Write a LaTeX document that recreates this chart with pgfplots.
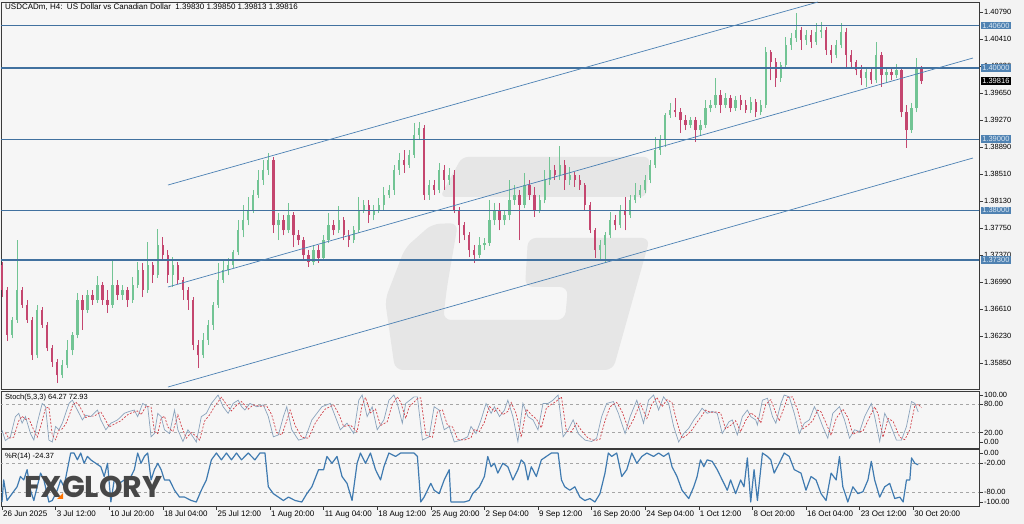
\documentclass[border=0pt]{standalone}
\usepackage{pgfplots}
\pgfplotsset{compat=1.18}
\usepackage{pgfplotstable}
\usepackage{fontspec}
\setmainfont{Liberation Sans}
\newfontfamily\logofont{Poppins}

\definecolor{pagebg}{HTML}{F3F3F3}
\definecolor{plotbg}{HTML}{F6F6F6}
\definecolor{wmark}{HTML}{E6E6E6}
\definecolor{bull}{HTML}{72C494}
\definecolor{bear}{HTML}{C4466F}
\definecolor{level}{HTML}{41719F}
\definecolor{chan}{HTML}{4B80B3}
\definecolor{tagbg}{HTML}{4F82B2}
\definecolor{tagfg}{HTML}{DCE8F3}
\definecolor{stochmain}{HTML}{8AA3BC}
\definecolor{stochsig}{HTML}{D0424A}
\definecolor{wpr}{HTML}{3F7AB0}
\definecolor{frame}{HTML}{3A3A3A}

% USDCAD H4 candles, one per 3 bars (t = bar number)
\pgfplotstableread{
t o h l c
0 1.3723 1.3727 1.3678 1.3688
3 1.3688 1.3692 1.3616 1.3625
6 1.3625 1.3650 1.3620 1.3646
9 1.3646 1.3758 1.3642 1.3688
12 1.3688 1.3692 1.3663 1.3667
15 1.3667 1.3674 1.3642 1.3646
18 1.3646 1.3650 1.3590 1.3596
21 1.3596 1.3667 1.3592 1.3660
24 1.3660 1.3664 1.3635 1.3639
27 1.3639 1.3643 1.3602 1.3606
30 1.3606 1.3611 1.3580 1.3587
33 1.3587 1.3591 1.3557 1.3568
36 1.3568 1.3590 1.3564 1.3582
39 1.3582 1.3618 1.3578 1.3603
42 1.3603 1.3629 1.3596 1.3625
45 1.3625 1.3684 1.3620 1.3674
48 1.3674 1.3681 1.3632 1.3660
51 1.3660 1.3688 1.3656 1.3681
54 1.3681 1.3688 1.3667 1.3674
57 1.3674 1.3708 1.3670 1.3695
60 1.3695 1.3699 1.3667 1.3674
63 1.3674 1.3688 1.3656 1.3667
66 1.3667 1.3730 1.3663 1.3695
69 1.3695 1.3702 1.3674 1.3681
72 1.3681 1.3695 1.3674 1.3688
75 1.3688 1.3692 1.3664 1.3674
78 1.3674 1.3706 1.3670 1.3695
81 1.3695 1.3727 1.3691 1.3716
84 1.3716 1.3726 1.3678 1.3688
87 1.3688 1.3755 1.3684 1.3723
90 1.3723 1.3727 1.3698 1.3709
93 1.3709 1.3774 1.3705 1.3751
96 1.3751 1.3762 1.3730 1.3737
99 1.3737 1.3744 1.3698 1.3709
102 1.3709 1.3734 1.3692 1.3723
105 1.3723 1.3727 1.3696 1.3702
108 1.3702 1.3706 1.3674 1.3688
111 1.3688 1.3692 1.3660 1.3674
114 1.3674 1.3678 1.3603 1.3611
117 1.3611 1.3618 1.3578 1.3596
120 1.3596 1.3628 1.3592 1.3618
123 1.3618 1.3646 1.3611 1.3639
126 1.3639 1.3671 1.3632 1.3667
129 1.3667 1.3726 1.3663 1.3702
132 1.3702 1.3730 1.3698 1.3716
135 1.3716 1.3733 1.3709 1.3723
138 1.3723 1.3744 1.3719 1.3741
141 1.3741 1.3786 1.3737 1.3772
144 1.3772 1.3808 1.3762 1.3786
147 1.3786 1.3819 1.3779 1.3800
150 1.3800 1.3829 1.3796 1.3822
153 1.3822 1.3857 1.3817 1.3843
156 1.3843 1.3871 1.3836 1.3857
159 1.3857 1.3881 1.3850 1.3871
162 1.3871 1.3875 1.3768 1.3779
165 1.3779 1.3796 1.3758 1.3786
168 1.3786 1.3793 1.3765 1.3772
171 1.3772 1.3810 1.3768 1.3793
174 1.3793 1.3798 1.3748 1.3765
177 1.3765 1.3772 1.3751 1.3758
180 1.3758 1.3762 1.3730 1.3737
183 1.3737 1.3744 1.3720 1.3727
186 1.3727 1.3751 1.3723 1.3744
189 1.3744 1.3751 1.3726 1.3733
192 1.3733 1.3765 1.3729 1.3758
195 1.3758 1.3796 1.3754 1.3779
198 1.3779 1.3786 1.3765 1.3772
201 1.3772 1.3806 1.3768 1.3786
204 1.3786 1.3791 1.3758 1.3765
207 1.3765 1.3772 1.3748 1.3758
210 1.3758 1.3778 1.3754 1.3772
213 1.3772 1.3819 1.3768 1.3800
216 1.3800 1.3815 1.3796 1.3808
219 1.3808 1.3815 1.3782 1.3793
222 1.3793 1.3808 1.3786 1.3800
225 1.3800 1.3817 1.3796 1.3808
228 1.3808 1.3833 1.3800 1.3822
231 1.3822 1.3836 1.3817 1.3829
234 1.3829 1.3864 1.3822 1.3857
237 1.3857 1.3881 1.3850 1.3871
240 1.3871 1.3885 1.3853 1.3864
243 1.3864 1.3885 1.3860 1.3878
246 1.3878 1.3923 1.3874 1.3906
249 1.3906 1.3924 1.3899 1.3916
252 1.3916 1.3920 1.3815 1.3822
255 1.3822 1.3843 1.3815 1.3836
258 1.3836 1.3843 1.3822 1.3829
261 1.3829 1.3867 1.3824 1.3857
264 1.3857 1.3864 1.3829 1.3843
267 1.3843 1.3860 1.3836 1.3850
270 1.3850 1.3857 1.3796 1.3800
273 1.3800 1.3805 1.3754 1.3779
276 1.3779 1.3784 1.3758 1.3765
279 1.3765 1.3770 1.3734 1.3744
282 1.3744 1.3751 1.3726 1.3737
285 1.3737 1.3762 1.3733 1.3751
288 1.3751 1.3761 1.3744 1.3754
291 1.3754 1.3815 1.3750 1.3786
294 1.3786 1.3810 1.3779 1.3800
297 1.3800 1.3810 1.3772 1.3786
300 1.3786 1.3800 1.3779 1.3793
303 1.3793 1.3843 1.3786 1.3815
306 1.3815 1.3836 1.3808 1.3822
309 1.3822 1.3829 1.3758 1.3808
312 1.3808 1.3853 1.3803 1.3836
315 1.3836 1.3843 1.3815 1.3822
318 1.3822 1.3833 1.3791 1.3800
321 1.3800 1.3822 1.3796 1.3815
324 1.3815 1.3857 1.3810 1.3843
327 1.3843 1.3875 1.3836 1.3857
330 1.3857 1.3864 1.3843 1.3850
333 1.3850 1.3891 1.3843 1.3864
336 1.3864 1.3871 1.3829 1.3843
339 1.3843 1.3861 1.3836 1.3850
342 1.3850 1.3854 1.3833 1.3843
345 1.3843 1.3850 1.3829 1.3836
348 1.3836 1.3838 1.3800 1.3808
351 1.3808 1.3812 1.3768 1.3772
354 1.3772 1.3775 1.3733 1.3744
357 1.3744 1.3758 1.3730 1.3751
360 1.3751 1.3770 1.3726 1.3765
363 1.3765 1.3798 1.3761 1.3786
366 1.3786 1.3793 1.3772 1.3779
369 1.3779 1.3808 1.3775 1.3800
372 1.3800 1.3819 1.3772 1.3793
375 1.3793 1.3822 1.3789 1.3815
378 1.3815 1.3838 1.3810 1.3822
381 1.3822 1.3836 1.3817 1.3829
384 1.3829 1.3850 1.3824 1.3843
387 1.3843 1.3871 1.3838 1.3864
390 1.3864 1.3903 1.3860 1.3885
393 1.3885 1.3906 1.3878 1.3899
396 1.3899 1.3937 1.3889 1.3934
399 1.3934 1.3951 1.3930 1.3941
402 1.3941 1.3958 1.3931 1.3938
405 1.3938 1.3944 1.3909 1.3927
408 1.3927 1.3934 1.3913 1.3920
411 1.3920 1.3931 1.3916 1.3927
414 1.3927 1.3931 1.3896 1.3913
417 1.3913 1.3927 1.3906 1.3920
420 1.3920 1.3955 1.3916 1.3944
423 1.3944 1.3955 1.3938 1.3948
426 1.3948 1.3986 1.3944 1.3962
429 1.3962 1.3969 1.3937 1.3948
432 1.3948 1.3965 1.3944 1.3958
435 1.3958 1.3962 1.3938 1.3944
438 1.3944 1.3961 1.3940 1.3955
441 1.3955 1.3962 1.3941 1.3948
444 1.3948 1.3955 1.3937 1.3941
447 1.3941 1.3959 1.3937 1.3952
450 1.3952 1.3957 1.3931 1.3938
453 1.3938 1.3955 1.3934 1.3948
456 1.3948 1.4030 1.3944 1.4023
459 1.4023 1.4026 1.3983 1.4009
462 1.4009 1.4014 1.3974 1.3986
465 1.3986 1.4009 1.3981 1.4005
468 1.4005 1.4044 1.4000 1.4033
471 1.4033 1.4050 1.4026 1.4042
474 1.4042 1.4078 1.4037 1.4054
477 1.4054 1.4058 1.4026 1.4040
480 1.4040 1.4054 1.4033 1.4047
483 1.4047 1.4054 1.4028 1.4037
486 1.4037 1.4064 1.4033 1.4051
489 1.4051 1.4065 1.4042 1.4054
492 1.4054 1.4058 1.4019 1.4026
495 1.4026 1.4033 1.4007 1.4019
498 1.4019 1.4040 1.4014 1.4033
501 1.4033 1.4064 1.4028 1.4051
504 1.4051 1.4057 1.4002 1.4019
507 1.4019 1.4026 1.4002 1.4009
510 1.4009 1.4012 1.3990 1.3997
513 1.3997 1.4005 1.3976 1.3986
516 1.3986 1.4000 1.3974 1.3995
519 1.3995 1.4002 1.3978 1.3983
522 1.3983 1.4037 1.3979 1.4019
525 1.4019 1.4023 1.3974 1.3990
528 1.3990 1.4002 1.3979 1.3995
531 1.3995 1.4000 1.3983 1.3990
534 1.3990 1.4006 1.3986 1.3997
537 1.3997 1.4002 1.3931 1.3938
540 1.3938 1.3948 1.3888 1.3913
543 1.3913 1.3951 1.3909 1.3944
546 1.3944 1.4014 1.3938 1.4000
549 1.4000 1.4003 1.3978 1.39816
}\candles

\pgfplotsset{
  mtpanel/.style={
    scale only axis, width=978pt, xmin=-0.6, xmax=583.3,
    axis line style={draw=frame, line width=0.9pt},
    xtick=\empty, ytick pos=right, yticklabel pos=right,
    tick align=outside, major tick length=4pt,
    tick style={draw=frame, line width=0.5pt},
    yticklabel style={font=\fontsize{7.5}{8}\selectfont, anchor=west, inner sep=1pt},
    clip mode=individual,
  },
  bullbar/.style={draw=none, mark=none, forget plot,
    error bars/.cd, y dir=plus, y explicit, error mark=none,
    error bar style={draw=bull, line width=#1}},
  bearbar/.style={draw=none, mark=none, forget plot,
    error bars/.cd, y dir=plus, y explicit, error mark=none,
    error bar style={draw=bear, line width=#1}},
}

\begin{document}
\begin{tikzpicture}[x=1pt,y=1pt]
\fill[pagebg] (0,0) rectangle (1024,524);
\fill[plotbg] (1,135) rectangle (979,522);
\fill[plotbg] (1,76) rectangle (979,133);
\fill[plotbg] (1,18) rectangle (979,75);
% watermark logo
\fill[wmark, rounded corners=6pt] (462,367) -- (650,367) -- (646,327) -- (440,327) -- cycle;
\fill[wmark, rounded corners=8pt] (432,300) -- (458,301) -- (447,237) -- (443,204) -- (565,204) -- (568,237) -- (525,237) -- (528,286) -- (650,286) -- (613,154) -- (395,154) -- (385,224) -- (405,276) -- cycle;

% ---------------- price panel
\begin{axis}[mtpanel, at={(1pt,135pt)}, anchor=south west, height=387pt,
  ymin=1.35487, ymax=1.40932,
  ytick={1.3585,1.3623,1.3661,1.3699,1.3737,1.3775,1.3813,1.3851,1.3889,1.3927,1.3965,1.4003,1.4041,1.4079},
  yticklabels={1.35850,1.36230,1.36610,1.36990,1.37370,1.37750,1.38130,1.38510,1.38890,1.39270,1.39650,1.40030,1.40410,1.40790}]
% wicks
\addplot[bullbar=0.8pt] table[x expr={\thisrow{c}>=\thisrow{o} ? \thisrow{t} : nan}, y=l, y error plus expr=\thisrow{h}-\thisrow{l}] {\candles};
\addplot[bearbar=0.8pt] table[x expr={\thisrow{c}<\thisrow{o} ? \thisrow{t} : nan}, y=l, y error plus expr=\thisrow{h}-\thisrow{l}] {\candles};
% bodies
\addplot[bullbar=2.3pt] table[x expr={\thisrow{c}>=\thisrow{o} ? \thisrow{t} : nan}, y=o, y error plus expr=\thisrow{c}-\thisrow{o}] {\candles};
\addplot[bearbar=2.3pt] table[x expr={\thisrow{c}<\thisrow{o} ? \thisrow{t} : nan}, y=c, y error plus expr=\thisrow{o}-\thisrow{c}] {\candles};
% horizontal levels
\addplot[level, line width=1.6pt] coordinates {(-1,1.406) (590,1.406)};
\addplot[level, line width=1.6pt] coordinates {(-1,1.400) (590,1.400)};
\addplot[level, line width=1.6pt] coordinates {(-1,1.390) (590,1.390)};
\addplot[level, line width=1.6pt] coordinates {(-1,1.380) (590,1.380)};
\addplot[level, line width=1.6pt] coordinates {(-1,1.373) (590,1.373)};
% channel
\addplot[chan, line width=0.7pt] coordinates {(99.1,1.38357) (487.2,1.40932)};
\addplot[chan, line width=0.7pt] coordinates {(99.1,1.36922) (579.7,1.40144)};
\addplot[chan, line width=0.7pt] coordinates {(99.1,1.35515) (579.7,1.38737)};
\coordinate (t1) at (axis cs:583.3,1.406);
\coordinate (t2) at (axis cs:583.3,1.400);
\coordinate (t3) at (axis cs:583.3,1.390);
\coordinate (t4) at (axis cs:583.3,1.380);
\coordinate (t5) at (axis cs:583.3,1.373);
\coordinate (tp) at (axis cs:583.3,1.39816);
\end{axis}

% ---------------- stochastic
\begin{axis}[mtpanel, at={(1pt,76pt)}, anchor=south west, height=57pt,
  ymin=-12.8, ymax=108.5, ytick={0,20,80,100}, yticklabels={0.00,20.00,80.00,100.00}]
\addplot[black!35, dashed, line width=0.4pt] coordinates {(-1,20) (590,20)};
\addplot[black!35, dashed, line width=0.4pt] coordinates {(-1,80) (590,80)};
\addplot[stochmain, line width=0.7pt] coordinates {
(0,25)(2,3)(5,11)(8,54)(10,61)(12,40)(14,54)(17,18)(19,4)(21,40)(24,82)(26,75)(28,4)(30,0)(32,33)(34,26)(36,40)(38,61)(40,82)(42,89)(44,75)(48,47)(50,57)(53,54)(57,68)(59,47)(62,26)(65,40)(69,47)(73,61)(76,65)(79,68)(81,54)(84,82)(87,75)(89,11)(91,18)(93,61)(95,54)(97,26)(100,18)(103,68)(105,26)(108,1)(111,26)(114,11)(116,0)(119,54)(122,61)(125,82)(129,100)(132,75)(135,61)(138,82)(141,89)(143,75)(145,68)(148,82)(152,75)(156,79)(159,54)(162,11)(165,15)(168,54)(170,75)(173,26)(177,4)(181,8)(185,47)(188,61)(191,75)(196,82)(199,54)(202,26)(206,40)(210,18)(213,89)(215,100)(218,54)(221,75)(224,26)(228,47)(231,89)(234,100)(236,82)(239,40)(241,82)(246,96)(248,96)(251,4)(255,11)(258,75)(261,68)(264,26)(267,33)(270,0)(274,4)(278,11)(280,33)(283,18)(286,47)(289,82)(292,61)(294,75)(297,54)(300,68)(302,89)(305,54)(308,1)(311,82)(314,54)(317,47)(320,26)(323,82)(326,82)(329,89)(332,100)(335,11)(338,26)(341,47)(344,18)(348,4)(352,1)(355,8)(358,54)(361,82)(365,86)(368,61)(372,18)(375,54)(379,89)(383,40)(386,89)(389,100)(392,68)(395,96)(398,82)(401,33)(404,0)(407,18)(410,29)(413,47)(416,61)(418,72)(421,61)(424,65)(427,61)(430,18)(434,43)(436,47)(439,15)(442,54)(445,68)(447,54)(450,47)(451,36)(454,89)(457,93)(460,54)(462,40)(465,82)(467,100)(470,96)(473,61)(476,18)(479,40)(482,47)(485,75)(487,61)(490,33)(493,8)(496,61)(500,75)(503,47)(506,8)(509,26)(512,22)(515,54)(519,82)(521,54)(524,1)(527,61)(530,40)(534,4)(537,4)(540,33)(543,86)(545,82)(547,64)};
\addplot[stochsig, line width=0.7pt, dash pattern=on 2pt off 1.5pt] coordinates {
(2,20)(4,8)(7,10)(10,45)(12,55)(14,48)(16,50)(19,25)(21,10)(23,32)(26,72)(28,74)(30,15)(32,5)(34,25)(36,28)(38,38)(40,55)(42,76)(44,85)(46,78)(50,52)(52,55)(55,55)(59,64)(61,52)(64,32)(67,38)(71,45)(75,58)(78,63)(81,66)(83,58)(86,76)(89,74)(91,22)(93,18)(95,50)(97,55)(99,32)(102,22)(105,58)(107,35)(110,8)(113,20)(116,12)(118,4)(121,45)(124,58)(127,76)(131,95)(134,80)(137,66)(140,78)(143,86)(145,78)(147,70)(150,79)(154,76)(158,77)(161,58)(164,20)(167,15)(170,45)(172,68)(175,35)(179,10)(183,8)(187,40)(190,56)(193,70)(198,79)(201,60)(204,33)(208,36)(212,22)(215,78)(217,95)(220,62)(223,70)(226,35)(230,43)(233,80)(236,96)(238,85)(241,50)(243,74)(248,92)(250,94)(253,15)(257,10)(260,65)(263,68)(266,35)(269,32)(272,6)(276,4)(280,9)(282,27)(285,22)(288,42)(291,76)(294,65)(296,72)(299,58)(302,65)(304,84)(307,60)(310,10)(313,70)(316,58)(319,49)(322,30)(325,72)(328,80)(331,87)(334,96)(337,22)(340,22)(343,40)(346,24)(350,8)(354,3)(357,6)(360,45)(363,75)(367,84)(370,66)(374,28)(377,48)(381,82)(385,50)(388,80)(391,95)(394,75)(397,90)(400,84)(403,42)(406,8)(409,15)(412,26)(415,42)(418,57)(420,68)(423,63)(426,64)(429,62)(432,28)(436,38)(438,45)(441,22)(444,46)(447,62)(449,57)(452,48)(453,40)(456,80)(459,90)(462,62)(464,45)(467,74)(469,95)(472,96)(475,68)(478,28)(481,35)(484,45)(487,68)(489,64)(492,40)(495,14)(498,50)(502,70)(505,52)(508,16)(511,22)(514,23)(517,46)(521,75)(523,60)(526,10)(529,50)(532,44)(536,10)(539,5)(542,26)(545,78)(547,80)(549,73)};
\end{axis}

% ---------------- Williams %R
\begin{axis}[mtpanel, at={(1pt,18pt)}, anchor=south west, height=57pt,
  ymin=-108.2, ymax=8.2, ytick={-100,-80,-20,0}, yticklabels={-100.00,-80.00,-20.00,0.00},
  xtick={0,32,...,544}, xtick pos=bottom,
  xticklabels={26 Jun 2025,3 Jul 12:00,10 Jul 20:00,18 Jul 04:00,25 Jul 12:00,1 Aug 20:00,11 Aug 04:00,18 Aug 12:00,25 Aug 20:00,2 Sep 04:00,9 Sep 12:00,16 Sep 20:00,24 Sep 04:00,1 Oct 12:00,8 Oct 20:00,16 Oct 04:00,23 Oct 12:00,30 Oct 20:00},
  xticklabel style={font=\fontsize{8}{9}\selectfont, anchor=north west, inner sep=1pt}]
\addplot[black!35, dashed, line width=0.4pt] coordinates {(-1,-20) (590,-20)};
\addplot[black!35, dashed, line width=0.4pt] coordinates {(-1,-80) (590,-80)};
\addplot[wpr, line width=1.2pt, line join=round] coordinates {
(0,-100)(1,-55)(3,-97)(6,-83)(9,-69)(11,-48)(13,-55)(15,-34)(17,-76)(19,-97)(21,-69)(23,-41)(25,-55)(28,-100)(30,-97)(33,-76)(35,-55)(37,-69)(39,-34)(41,0)(43,0)(45,-14)(47,0)(49,-21)(51,-7)(53,-14)(56,-21)(59,-28)(61,-48)(63,-21)(65,-100)(67,-55)(70,-62)(73,-55)(77,-48)(79,-34)(81,0)(83,-21)(85,-7)(87,0)(89,-55)(91,-34)(93,-21)(95,-34)(97,-55)(100,-55)(103,-76)(106,-90)(109,-90)(113,-97)(116,-100)(119,-76)(122,-55)(125,-14)(128,0)(131,-14)(134,0)(137,-14)(140,0)(143,-14)(147,0)(151,-14)(154,0)(157,0)(159,-69)(162,-83)(165,-90)(168,-97)(171,-90)(175,-97)(179,-100)(182,-83)(185,-69)(189,-34)(192,-34)(194,-7)(197,-21)(200,-7)(203,-48)(206,-62)(209,-97)(212,-21)(214,0)(217,-21)(220,0)(223,-34)(226,-55)(228,-28)(231,0)(235,-7)(238,0)(242,0)(246,0)(248,-7)(250,-100)(252,-90)(256,-62)(258,-76)(261,-83)(264,-55)(267,-34)(268,-100)(272,-100)(276,-100)(279,-97)(281,-83)(285,-69)(288,-48)(290,-7)(292,-28)(294,-21)(296,-41)(299,-21)(302,-28)(305,-55)(308,-34)(310,-14)(312,-21)(314,-55)(316,-28)(319,-48)(322,-14)(325,-7)(328,0)(332,0)(334,-55)(336,-69)(339,-76)(342,-69)(345,-90)(348,-97)(351,-93)(354,-100)(357,-83)(360,-41)(362,0)(364,-7)(367,0)(370,-48)(373,-34)(376,0)(379,-21)(382,-7)(385,0)(389,-7)(392,0)(395,-7)(398,0)(400,-28)(403,-48)(406,-76)(410,-93)(413,-69)(415,-48)(417,-14)(419,-28)(421,-14)(424,-17)(427,-34)(430,-55)(433,-76)(435,-55)(438,-83)(441,-55)(443,-69)(445,-10)(447,-100)(449,-34)(451,-97)(454,0)(457,-7)(459,-14)(461,-41)(464,-21)(467,0)(470,-7)(473,-34)(477,-41)(480,-76)(483,-48)(486,-55)(489,-83)(492,-97)(495,-41)(498,-55)(500,-7)(502,-69)(505,-100)(508,-69)(511,-83)(514,-79)(517,-55)(519,-17)(521,-55)(524,-90)(527,-69)(530,-62)(533,-93)(536,-90)(538,-100)(540,-55)(542,-55)(543,-10)(545,-21)(547,-24)};
\end{axis}

% price tags on the right scale
\begin{scope}[every node/.style={anchor=west, font=\fontsize{7.5}{8}\selectfont, inner xsep=1.6pt, inner ysep=1.2pt, xshift=1.5pt}]
\node[fill=tagbg, text=tagfg] at (t1) {1.40600};
\node[fill=tagbg, text=tagfg] at (t2) {1.40000};
\node[fill=tagbg, text=tagfg] at (t3) {1.39000};
\node[fill=tagbg, text=tagfg] at (t4) {1.38000};
\node[fill=tagbg, text=tagfg] at (t5) {1.37300};
\node[fill=black, text=white] at (tp) {1.39816};
\end{scope}

% texts
\node[anchor=west, font=\fontsize{8}{9}\selectfont, inner sep=0pt] at (5,516.5) {USDCADm, H4:\ \ US Dollar vs Canadian Dollar\ \ 1.39830 1.39850 1.39813 1.39816};
\node[anchor=west, font=\fontsize{7.5}{8}\selectfont, inner sep=0pt] at (5,126) {Stoch(5,3,3) 64.27 72.93};
\node[anchor=west, font=\fontsize{7.5}{8}\selectfont, inner sep=0pt] at (5,67) {\%R(14) -24.37};
\node[anchor=west, inner sep=0pt, text=black!72, font=\logofont\bfseries\fontsize{30}{30}\selectfont] at (24,37) {FXGLORY};
\fill[orange!90!red] (57,25) -- (63,25) -- (63,31) -- cycle;
\end{tikzpicture}
\end{document}
